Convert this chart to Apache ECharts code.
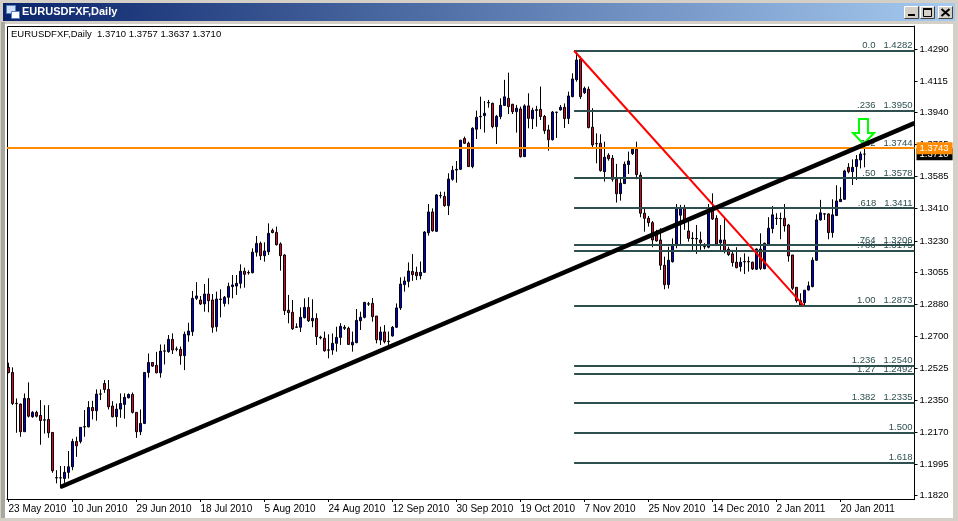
<!DOCTYPE html>
<html><head><meta charset="utf-8">
<style>html,body{margin:0;padding:0;background:#d4d0c8}#c{width:958px;height:521px}</style>
<script src="https://cdn.jsdelivr.net/npm/echarts@6/dist/echarts.min.js"></script>
</head><body><div id="c"></div>
<script>
const FONT = '"Liberation Sans", Arial, sans-serif';
const BOLD = '"Liberation Sans", Arial, sans-serif';
const dateLabels = ["23 May 2010","10 Jun 2010","29 Jun 2010","18 Jul 2010","5 Aug 2010","24 Aug 2010","12 Sep 2010","30 Sep 2010","19 Oct 2010","7 Nov 2010","25 Nov 2010","14 Dec 2010","2 Jan 2011","20 Jan 2011"];
const barsPerDateLabel = 16;
const priceTicks = [1.4290,1.4115,1.3940,1.3765,1.3585,1.3410,1.3230,1.3055,1.2880,1.2700,1.2525,1.2350,1.2170,1.1995,1.1820];
const fibLevels = [["0.0",1.4282,true],[".236",1.3950,true],[".382",1.3744,true],[".50",1.3578,true],[".618",1.3411,true],[".764",1.3206,true],[".786",1.3175,true],["1.00",1.2873,true],["1.236",1.2540,true],["1.27",1.2492,true],["1.382",1.2335,true],["1.500",1.2169,false],["1.618",1.2002,false]];
const askLine = 1.3743, lastClose = 1.3710;
const trendLine = [[13,1.1868],[226.5,1.3882]];
const fibBaseLine = [[141.4,1.4282],[198.75,1.2873]];
// each bar: open, close, low, high
const ohlc = [
[1.2530,1.2502,1.2497,1.2556],[1.2502,1.2330,1.2321,1.2530],[1.2331,1.2329,1.2168,1.2358],[1.2327,1.2174,1.2146,1.2330],
[1.2174,1.2358,1.2174,1.2386],[1.2358,1.2260,1.2253,1.2447],[1.2257,1.2281,1.2251,1.2288],[1.2281,1.2260,1.2253,1.2290],
[1.2264,1.2236,1.2102,1.2349],[1.2240,1.2238,1.2164,1.2321],[1.2242,1.2168,1.2140,1.2321],[1.2170,1.1958,1.1947,1.2170],
[1.1920,1.1918,1.1888,1.1961],[1.1919,1.1918,1.1860,1.1984],[1.1915,1.1949,1.1891,1.1984],[1.1949,1.1980,1.1915,1.2067],
[1.1980,1.2120,1.1961,1.2135],[1.2120,1.2096,1.2035,1.2146],[1.2120,1.2198,1.2109,1.2198],[1.2200,1.2202,1.2146,1.2294],
[1.2201,1.2308,1.2198,1.2343],[1.2308,1.2290,1.2242,1.2345],[1.2290,1.2382,1.2235,1.2408],[1.2382,1.2383,1.2349,1.2408],
[1.2441,1.2408,1.2389,1.2460],[1.2408,1.2312,1.2297,1.2460],[1.2316,1.2257,1.2253,1.2343],[1.2257,1.2299,1.2201,1.2330],
[1.2299,1.2330,1.2251,1.2386],[1.2325,1.2364,1.2246,1.2386],[1.2362,1.2380,1.2358,1.2386],[1.2380,1.2281,1.2275,1.2391],
[1.2281,1.2174,1.2140,1.2281],[1.2174,1.2220,1.2155,1.2297],[1.2220,1.2502,1.2216,1.2502],[1.2502,1.2557,1.2473,1.2607],
[1.2557,1.2537,1.2533,1.2557],[1.2541,1.2500,1.2497,1.2616],[1.2500,1.2620,1.2473,1.2657],[1.2620,1.2621,1.2546,1.2657],
[1.2617,1.2685,1.2611,1.2709],[1.2685,1.2626,1.2604,1.2718],[1.2632,1.2630,1.2619,1.2645],[1.2630,1.2595,1.2545,1.2645],
[1.2595,1.2713,1.2515,1.2728],[1.2709,1.2731,1.2672,1.2777],[1.2728,1.2912,1.2704,1.2953],[1.2912,1.2925,1.2903,1.3002],
[1.2903,1.2881,1.2875,1.2925],[1.2881,1.2936,1.2838,1.2991],[1.2936,1.2899,1.2835,1.3023],[1.2903,1.2752,1.2722,1.2936],
[1.2755,1.2908,1.2728,1.2949],[1.2906,1.2908,1.2807,1.2962],[1.2884,1.2918,1.2866,1.2925],[1.2918,1.2978,1.2879,1.2999],
[1.2977,1.2986,1.2912,1.3041],[1.2980,1.2995,1.2931,1.3041],[1.2995,1.3062,1.2967,1.3100],[1.3062,1.3045,1.2971,1.3082],
[1.3053,1.3055,1.3043,1.3067],[1.3054,1.3167,1.3050,1.3189],[1.3167,1.3216,1.3143,1.3257],[1.3216,1.3148,1.3124,1.3226],
[1.3148,1.3174,1.3115,1.3222],[1.3170,1.3272,1.3152,1.3327],[1.3288,1.3276,1.3272,1.3298],[1.3277,1.3209,1.3204,1.3309],
[1.3213,1.3148,1.3065,1.3222],[1.3152,1.2844,1.2820,1.3156],[1.2846,1.2833,1.2774,1.2931],[1.2835,1.2744,1.2737,1.2903],
[1.2754,1.2752,1.2748,1.2774],[1.2752,1.2807,1.2726,1.2862],[1.2805,1.2862,1.2801,1.2912],[1.2862,1.2788,1.2781,1.2918],
[1.2788,1.2801,1.2752,1.2907],[1.2801,1.2700,1.2654,1.2829],[1.2697,1.2693,1.2685,1.2705],[1.2691,1.2622,1.2617,1.2728],
[1.2627,1.2625,1.2580,1.2713],[1.2626,1.2663,1.2600,1.2718],[1.2663,1.2696,1.2617,1.2755],[1.2696,1.2757,1.2654,1.2774],
[1.2752,1.2746,1.2737,1.2764],[1.2746,1.2657,1.2654,1.2755],[1.2654,1.2669,1.2617,1.2728],[1.2667,1.2790,1.2663,1.2853],
[1.2788,1.2807,1.2737,1.2838],[1.2807,1.2890,1.2801,1.2890],[1.2880,1.2882,1.2870,1.2892],[1.2884,1.2811,1.2783,1.2914],
[1.2814,1.2683,1.2663,1.2814],[1.2681,1.2726,1.2654,1.2755],[1.2726,1.2672,1.2663,1.2764],[1.2675,1.2673,1.2654,1.2728],
[1.2704,1.2752,1.2700,1.2759],[1.2752,1.2859,1.2748,1.2884],[1.2859,1.2991,1.2848,1.3028],[1.2988,1.3008,1.2949,1.3032],
[1.3006,1.3063,1.2973,1.3111],[1.3061,1.3043,1.3009,1.3157],[1.3056,1.3037,1.3013,1.3087],[1.3037,1.3056,1.3017,1.3116],
[1.3056,1.3279,1.3054,1.3284],[1.3275,1.3390,1.3259,1.3434],[1.3390,1.3286,1.3281,1.3410],[1.3283,1.3484,1.3279,1.3489],
[1.3479,1.3481,1.3465,1.3502],[1.3476,1.3425,1.3419,1.3502],[1.3425,1.3572,1.3373,1.3604],[1.3571,1.3621,1.3563,1.3645],
[1.3622,1.3626,1.3552,1.3672],[1.3626,1.3787,1.3622,1.3789],[1.3796,1.3770,1.3766,1.3807],[1.3770,1.3641,1.3641,1.3779],
[1.3641,1.3853,1.3632,1.3859],[1.3848,1.3914,1.3794,1.3951],[1.3917,1.3919,1.3848,1.4028],[1.3923,1.3936,1.3829,1.4004],
[1.3994,1.3996,1.3967,1.4010],[1.3991,1.3862,1.3853,1.3995],[1.3862,1.3919,1.3766,1.3927],[1.3918,1.3980,1.3903,1.4019],
[1.3979,1.4027,1.3977,1.4121],[1.4019,1.3973,1.3932,1.4161],[1.3986,1.3945,1.3932,1.3988],[1.3945,1.3964,1.3829,1.3982],
[1.3960,1.3696,1.3691,1.3973],[1.3696,1.3977,1.3696,1.3986],[1.3977,1.3908,1.3853,1.4047],[1.3906,1.3953,1.3849,1.3967],
[1.3952,1.3956,1.3862,1.3977],[1.3958,1.3918,1.3899,1.4084],[1.3919,1.3840,1.3822,1.3927],[1.3844,1.3790,1.3729,1.3872],
[1.3790,1.3943,1.3785,1.3949],[1.3941,1.3942,1.3800,1.3945],[1.3955,1.3969,1.3951,1.3982],[1.3969,1.3907,1.3855,1.3991],
[1.3907,1.4032,1.3877,1.4056],[1.4028,1.4126,1.4025,1.4157],[1.4122,1.4231,1.4111,1.4280],[1.4235,1.4028,1.4015,1.4250],
[1.4050,1.4074,1.4043,1.4084],[1.4069,1.3857,1.3853,1.4084],[1.3859,1.3761,1.3748,1.3964],[1.3769,1.3767,1.3659,1.3825],
[1.3770,1.3619,1.3613,1.3820],[1.3613,1.3693,1.3558,1.3779],[1.3704,1.3685,1.3674,1.3715],[1.3687,1.3571,1.3558,1.3705],
[1.3571,1.3491,1.3442,1.3656],[1.3491,1.3549,1.3453,1.3576],[1.3547,1.3654,1.3545,1.3669],[1.3652,1.3672,1.3600,1.3724],
[1.3713,1.3737,1.3705,1.3742],[1.3737,1.3597,1.3571,1.3779],[1.3593,1.3383,1.3361,1.3610],[1.3383,1.3355,1.3281,1.3407],
[1.3355,1.3331,1.3309,1.3368],[1.3331,1.3235,1.3195,1.3340],[1.3263,1.3230,1.3226,1.3291],[1.3235,1.3095,1.3069,1.3300],
[1.3095,1.2988,1.2962,1.3143],[1.2988,1.3123,1.2966,1.3198],[1.3115,1.3207,1.3110,1.3244],[1.3207,1.3409,1.3189,1.3434],
[1.3372,1.3409,1.3207,1.3429],[1.3409,1.3337,1.3291,1.3429],[1.3285,1.3244,1.3226,1.3337],[1.3245,1.3243,1.3180,1.3278],
[1.3243,1.3241,1.3158,1.3318],[1.3235,1.3220,1.3180,1.3281],[1.3199,1.3197,1.3184,1.3217],[1.3195,1.3401,1.3189,1.3434],
[1.3401,1.3351,1.3346,1.3493],[1.3355,1.3213,1.3207,1.3372],[1.3219,1.3235,1.3180,1.3318],[1.3235,1.3176,1.3161,1.3355],
[1.3184,1.3154,1.3147,1.3198],[1.3158,1.3110,1.3088,1.3180],[1.3112,1.3082,1.3078,1.3195],[1.3088,1.3112,1.3060,1.3139],
[1.3116,1.3114,1.3047,1.3161],[1.3116,1.3114,1.3060,1.3143],[1.3112,1.3075,1.3069,1.3115],[1.3073,1.3185,1.3069,1.3189],
[1.3185,1.3078,1.3069,1.3272],[1.3076,1.3217,1.3073,1.3220],[1.3213,1.3300,1.3207,1.3361],[1.3298,1.3374,1.3272,1.3423],
[1.3356,1.3354,1.3318,1.3383],[1.3354,1.3353,1.3239,1.3386],[1.3355,1.3313,1.3281,1.3434],[1.3318,1.3147,1.3115,1.3324],
[1.3152,1.2968,1.2958,1.3152],[1.2973,1.2899,1.2888,1.2973],[1.2899,1.2875,1.2870,1.2940],[1.2888,1.2957,1.2873,1.2958],
[1.2958,1.2981,1.2955,1.3005],[1.2977,1.3123,1.2973,1.3139],[1.3123,1.3346,1.3119,1.3377],[1.3346,1.3385,1.3342,1.3457],
[1.3380,1.3378,1.3346,1.3383],[1.3379,1.3276,1.3239,1.3383],[1.3276,1.3374,1.3248,1.3460],[1.3370,1.3451,1.3368,1.3538],
[1.3447,1.3460,1.3447,1.3527],[1.3460,1.3617,1.3457,1.3623],[1.3637,1.3613,1.3604,1.3660],[1.3613,1.3637,1.3539,1.3681],
[1.3641,1.3681,1.3567,1.3705],[1.3678,1.3711,1.3631,1.3724],[1.3710,1.3710,1.3637,1.3757]
];
const FIB = '#2f4f4f';
const XMIN = -0.375, XMAX = 226.5;
const bars = ohlc.map((r,i)=>[i,r[0],r[1],r[2],r[3]]);
const chart = echarts.init(document.getElementById('c'),null,{renderer:'canvas'});
const tickAt = dateLabels.map((d,k)=>k*barsPerDateLabel);
function winButton(x){return [
  {type:'rect',shape:{x:x,y:6,width:15,height:13},style:{fill:'#d4d0c8'}},
  {type:'polyline',shape:{points:[[x+.5,18.5],[x+.5,6.5],[x+14.5,6.5]]},style:{stroke:'#fff',fill:'none',lineWidth:1}},
  {type:'polyline',shape:{points:[[x+.5,18.5],[x+14.5,18.5],[x+14.5,6.5]]},style:{stroke:'#404040',fill:'none',lineWidth:1}}
];}
chart.setOption({
  animation:false,
  backgroundColor:'#d4d0c8',
  grid:{left:7,top:26,width:907.5,height:473,show:false},
  xAxis:{type:'value',min:XMIN,max:XMAX,position:'bottom',
    axisLine:{onZero:false,lineStyle:{color:'#000'}},
    axisTick:{length:3,lineStyle:{color:'#000'},customValues:tickAt},
    axisLabel:{fontFamily:FONT,fontSize:10,color:'#000',align:'left',margin:5,showMinLabel:true,customValues:tickAt,formatter:v=>dateLabels[Math.round(v/barsPerDateLabel)]||''},
    splitLine:{show:false}},
  yAxis:{type:'value',position:'right',min:1.18016,max:1.44191,
    axisLine:{show:true,onZero:false,lineStyle:{color:'#000'}},
    axisTick:{show:true,length:3,lineStyle:{color:'#000'},customValues:priceTicks},
    axisLabel:{fontFamily:FONT,fontSize:9.5,color:'#000',margin:5,customValues:priceTicks,formatter:v=>v.toFixed(4)},
    splitLine:{show:false}},
  graphic:[
    {type:'group',silent:true,z:-1,children:[
      {type:'rect',shape:{x:0,y:0,width:958,height:521},style:{fill:'#d4d0c8'},z:-1},
      {type:'rect',shape:{x:3,y:3,width:952,height:18},z:-1,style:{fill:new echarts.graphic.LinearGradient(0,0,1,0,[{offset:0,color:'#0a246a'},{offset:1,color:'#a6caf0'}])}},
      {type:'rect',shape:{x:1,y:22,width:4,height:496},style:{fill:'#a8a8a0'},z:-1},
      {type:'rect',shape:{x:5,y:24,width:948,height:494},style:{fill:'#ffffff'},z:-1},
      {type:'rect',shape:{x:7.5,y:26.5,width:907,height:473},style:{fill:'#ffffff',stroke:'#000',lineWidth:1},z:-1}
    ]},
    {type:'group',silent:true,z:-1,children:[
      {type:'rect',shape:{x:6.5,y:5.5,width:9,height:8},style:{fill:'#cfe0f8',stroke:'#5a7fc0'},z:-1},
      {type:'rect',shape:{x:11.5,y:11.5,width:8,height:7},style:{fill:'#ffffff',stroke:'#5a7fc0'},z:-1}
    ]},
    {type:'text',left:22,top:6,z:5,style:{text:'EURUSDFXF,Daily',fill:'#fff',font:'bold 11px '+BOLD}},
    {type:'text',left:11,top:29,z:5,style:{text:'EURUSDFXF,Daily  1.3710 1.3757 1.3637 1.3710',fill:'#000',font:'9.5px '+FONT}},
    {type:'group',silent:true,z:5,children:[
      ...winButton(904),...winButton(920),...winButton(938),
      {type:'rect',shape:{x:908,y:14,width:7,height:2},style:{fill:'#000'}},
      {type:'rect',shape:{x:923.5,y:8.5,width:8,height:8},style:{fill:'none',stroke:'#000',lineWidth:1}},
      {type:'rect',shape:{x:923,y:8,width:9,height:2},style:{fill:'#000'}},
      {type:'line',shape:{x1:941.5,y1:9,x2:949.5,y2:16},style:{stroke:'#000',lineWidth:2}},
      {type:'line',shape:{x1:949.5,y1:9,x2:941.5,y2:16},style:{stroke:'#000',lineWidth:2}}
    ]},
    {type:'polygon',silent:true,z:6,shape:{points:[[859,119],[868,119],[868,133],[874,133],[863.5,144],[853,133],[859,133]]},style:{fill:'rgba(255,255,255,0)',stroke:'#00ff00',lineWidth:2}}
  ],
  series:[
    {type:'candlestick',z:2,barWidth:3,data:bars,encode:{x:0,y:[1,2,3,4]},
      itemStyle:{color:'#0000dc',color0:'#dc0032',borderColor:'#000',borderColor0:'#000',borderColorDoji:'#000',borderWidth:1}},
    {type:'line',z:3,data:[],markLine:{silent:true,symbol:'none',animation:false,precision:4,
      lineStyle:{color:'rgba(0,0,0,0)',width:1},
      label:{position:'end',distance:2,formatter:lastClose.toFixed(4),color:'#fff',backgroundColor:'#000',padding:[0,4,0,3],lineHeight:12,fontFamily:FONT,fontSize:9.5},
      data:[[{coord:[XMIN,lastClose]},{coord:[XMAX,lastClose]}]]}},
    {type:'line',z:5,data:[],markLine:{silent:true,symbol:'none',animation:false,precision:4,
      lineStyle:{color:FIB,width:2,type:'solid'},
      label:{position:'insideEndTop',distance:0,color:FIB,fontFamily:FONT,fontSize:9.5,padding:[0,2,0,0]},
      data:fibLevels.map(l=>[{coord:[141.4,l[1]],label:{formatter:l[2]?l[0]+'   '+l[1].toFixed(4):l[0]}},{coord:[XMAX,l[1]]}])}},
    {type:'line',z:6,data:[],markLine:{silent:true,symbol:'none',animation:false,precision:4,
      lineStyle:{color:'#ff8c00',width:2,type:'solid'},
      label:{position:'end',distance:2,formatter:askLine.toFixed(4),color:'#fff',backgroundColor:'#ff8c00',padding:[0,4,0,3],lineHeight:12,fontFamily:FONT,fontSize:9.5},
      data:[[{coord:[XMIN,askLine]},{coord:[XMAX,askLine]}]]}},
    {type:'line',z:7,data:fibBaseLine,showSymbol:false,symbol:'none',silent:true,lineStyle:{color:'#ff0000',width:2}},
    {type:'line',z:8,data:trendLine,showSymbol:false,symbol:'none',silent:true,lineStyle:{color:'#000',width:4.5}}
  ]
});
</script></body></html>
